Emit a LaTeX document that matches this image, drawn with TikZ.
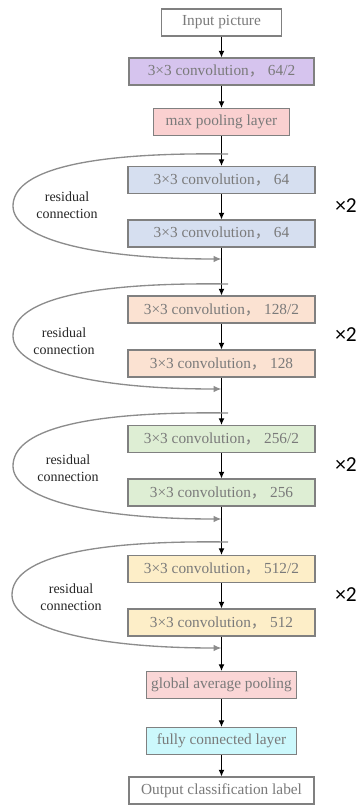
\documentclass[tikz,border=0pt]{standalone}
\usepackage{fontspec}
\setmainfont{Liberation Serif}
\newfontfamily\cjk{Noto Sans CJK SC}
\newfontfamily\carlito{Carlito}
\usepackage{xcolor}
\usetikzlibrary{arrows.meta}

\definecolor{boxline}{RGB}{128,128,128}
\definecolor{boxtext}{RGB}{122,122,122}
\definecolor{convpurple}{RGB}{214,196,238}
\definecolor{poolpink}{RGB}{250,208,208}
\definecolor{blueblk}{RGB}{214,223,240}
\definecolor{peachblk}{RGB}{251,226,210}
\definecolor{greenblk}{RGB}{222,238,212}
\definecolor{yellowblk}{RGB}{253,238,200}
\definecolor{gappink}{RGB}{250,214,214}
\definecolor{fccyan}{RGB}{204,248,252}
\definecolor{loopgray}{RGB}{140,140,140}

\newcommand{\fwcomma}{{\cjk ，}}

\begin{document}
\begin{tikzpicture}[x=0.75pt,y=0.75pt,yscale=-1,xscale=1,
  layer/.style={draw=boxline,line width=1.1pt,text=boxtext,minimum height=20pt,inner sep=0pt,font=\fontsize{11.5}{14}\selectfont},
  flow/.style={-{Latex[length=5pt,width=4.5pt]},line width=0.8pt,black},
  skip/.style={-{Latex[length=6pt,width=5pt]},line width=1pt,loopgray},
  skiplabel/.style={align=center,font=\fontsize{10.5}{12.75}\selectfont,text=black!85},
  repeat/.style={font=\carlito\fontsize{16}{18}\selectfont}]
\useasboundingbox (0,0) rectangle (360,805);

% Stem
\node[layer,minimum width=90pt,fill=white] (inp) at (221.5,22.5) {Input picture};
\node[layer,minimum width=139pt,fill=convpurple] (conv) at (221.5,71.5) {3×3 convolution\fwcomma\ 64/2};
\node[layer,minimum width=102pt,fill=poolpink] (pool) at (221.5,122) {max pooling layer};

% Block 1
\node[layer,minimum width=140pt,fill=blueblk] (b1a) at (221.5,180) {3×3 convolution\fwcomma\ 64};
\node[layer,minimum width=140pt,fill=blueblk] (b1b) at (221.5,233.5) {3×3 convolution\fwcomma\ 64};
% Block 2
\node[layer,minimum width=140pt,fill=peachblk] (b2a) at (221.5,309.5) {3×3 convolution\fwcomma\ 128/2};
\node[layer,minimum width=140pt,fill=peachblk] (b2b) at (221.5,363.5) {3×3 convolution\fwcomma\ 128};
% Block 3
\node[layer,minimum width=140pt,fill=greenblk] (b3a) at (221.5,439) {3×3 convolution\fwcomma\ 256/2};
\node[layer,minimum width=140pt,fill=greenblk] (b3b) at (221.5,492.5) {3×3 convolution\fwcomma\ 256};
% Block 4
\node[layer,minimum width=140pt,fill=yellowblk] (b4a) at (221.5,569) {3×3 convolution\fwcomma\ 512/2};
\node[layer,minimum width=140pt,fill=yellowblk] (b4b) at (221.5,622.5) {3×3 convolution\fwcomma\ 512};

% Head
\node[layer,minimum width=112.5pt,fill=gappink] (gap) at (221.5,685) {global average pooling};
\node[layer,minimum width=112.5pt,fill=fccyan] (fc) at (221.5,741) {fully connected layer};
\node[layer,minimum width=139pt,fill=white] (out) at (221.5,790.5) {Output classification label};

% Main flow
\draw[flow] (inp) -- (conv);
\draw[flow] (conv) -- (pool);
\draw[flow] (pool) -- (b1a);
\draw[flow] (b1a) -- (b1b);
\draw[flow] (b1b) -- (b2a);
\draw[flow] (b2a) -- (b2b);
\draw[flow] (b2b) -- (b3a);
\draw[flow] (b3a) -- (b3b);
\draw[flow] (b3b) -- (b4a);
\draw[flow] (b4a) -- (b4b);
\draw[flow] (b4b) -- (gap);
\draw[flow] (gap) -- (fc);
\draw[flow] (fc) -- (out);

% Residual connections
\coordinate (r1s) at (228,154);
\coordinate (r1e) at (221.5,259);
\draw[skip] (r1s) .. controls (80,152) and (13,172) .. (13,206) .. controls (13,238) and (90,259) .. (r1e);
\coordinate (r2s) at (228,284);
\coordinate (r2e) at (221.5,389);
\draw[skip] (r2s) .. controls (80,282) and (13,302) .. (13,336) .. controls (13,368) and (90,389) .. (r2e);
\coordinate (r3s) at (228,413);
\coordinate (r3e) at (221.5,519);
\draw[skip] (r3s) .. controls (80,411) and (13,431) .. (13,466) .. controls (13,498) and (90,519) .. (r3e);
\coordinate (r4s) at (228,542);
\coordinate (r4e) at (221.5,648);
\draw[skip] (r4s) .. controls (80,540) and (12,560) .. (12,595) .. controls (12,627) and (90,648) .. (r4e);

% Text Node
\node[skiplabel] (l1) at (67,205.5) {residual\\connection};
\node[skiplabel] (l2) at (64,341) {residual\\connection};
\node[skiplabel] (l3) at (68,468) {residual\\connection};
\node[skiplabel] (l4) at (71,597) {residual\\connection};
% Text Node
\node[repeat] (x1) at (346,206) {×2};
\node[repeat] (x2) at (346,335) {×2};
\node[repeat] (x3) at (346,465) {×2};
\node[repeat] (x4) at (346,595) {×2};

\end{tikzpicture}
\end{document}
